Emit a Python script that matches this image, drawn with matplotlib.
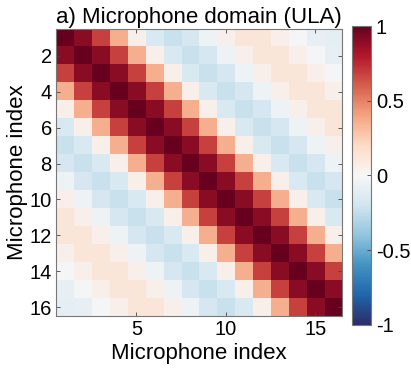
import numpy as np
import matplotlib
matplotlib.use("Agg")
import matplotlib.pyplot as plt
from matplotlib.colors import LinearSegmentedColormap

# correlation between mics vs. spacing (lag 0..15)
lag_corr = [1.0, 0.90, 0.68, 0.36, 0.05, -0.15, -0.22, -0.17, -0.05,
            0.05, 0.12, 0.12, 0.05, -0.02, -0.08, -0.09]
n_mics = 16
x_ticks = [5, 10, 15]
y_ticks = [2, 4, 6, 8, 10, 12, 14, 16]
cb_ticks = [-1, -0.5, 0, 0.5, 1]
cb_labels = ["-1", "-0.5", "0", "0.5", "1"]

idx = np.arange(n_mics)
R = np.array(lag_corr)[np.abs(idx[:, None] - idx[None, :])]

cmap = LinearSegmentedColormap.from_list(
    "rb", ["#2b2c68", "#2166ac", "#4393c3", "#92c5de", "#d1e5f0", "#f7f7f7",
           "#fddbc7", "#f4a582", "#d6604d", "#b2182b", "#67001f"])

plt.rcParams['font.family'] = ['Liberation Sans', 'DejaVu Sans']
fig = plt.figure(figsize=(4.11, 3.71), dpi=100)
ax = fig.add_axes([56/411, 1-316/371, 286/411, 287/371])
im = ax.imshow(R, cmap=cmap, vmin=-1, vmax=1, aspect='auto',
               extent=[0.5, n_mics+0.5, n_mics+0.5, 0.5], interpolation='nearest')
ax.set_xticks(x_ticks)
ax.set_yticks(y_ticks)
ax.tick_params(direction='in', length=3, labelsize=14.5, color='#444444', width=0.6, pad=3)
ax.tick_params(top=True, right=True)
for s in ax.spines.values():
    s.set_color('#777777')
    s.set_linewidth(0.8)
ax.set_xlabel("Microphone index", fontsize=16, labelpad=3)
ax.set_ylabel("Microphone index", fontsize=16, labelpad=1)
ax.set_title("a) Microphone domain (ULA)", fontsize=16, pad=4)

cax = fig.add_axes([352/411, 1-325/371, 19/411, 299/371])
cb = fig.colorbar(im, cax=cax, ticks=cb_ticks)
cb.ax.set_yticklabels(cb_labels)
cb.ax.tick_params(direction='in', length=3, labelsize=14.5, width=0.6, color='#444444')
cb.outline.set_edgecolor('#777777')
cb.outline.set_linewidth(0.8)

fig.savefig("out.png", dpi=100)
